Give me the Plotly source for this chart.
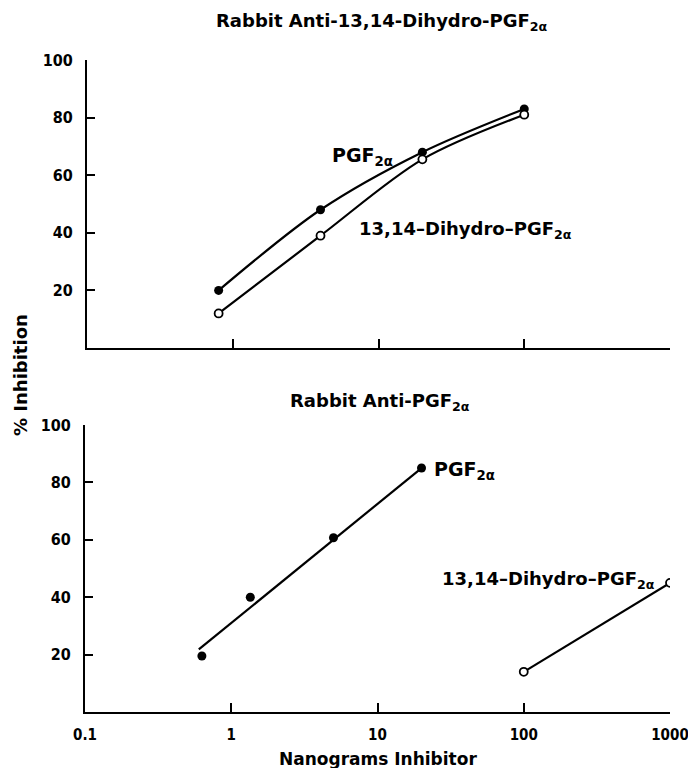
import plotly.graph_objects as go

# ---- data ----
top_x = [0.8, 4, 20, 100]
top_pgf = [20, 48, 68, 83]
top_dihydro = [12, 39, 65.5, 81]

bot_pgf_x = [0.63, 1.35, 5, 20]
bot_pgf_y = [19.5, 40, 60.7, 85]
bot_fit_x = [0.6, 20]
bot_fit_y = [21.8, 85]
bot_dih_x = [100, 1000]
bot_dih_y = [14, 45]

x_tickvals = [0.1, 1, 10, 100, 1000]
x_ticktext = ["0.1", "1", "10", "100", "1000"]
y_tickvals = [20, 40, 60, 80, 100]

FONT = "DejaVu Sans Condensed, DejaVu Sans, sans-serif"
LFONT = "DejaVu Sans, sans-serif"
W, H = 688, 768

def py(px):
    return 1 - px / H

fig = go.Figure()

filled = dict(symbol="circle", size=9, color="black")
opened = dict(symbol="circle", size=8, color="white", line=dict(width=1.8, color="black"))

# top panel
fig.add_trace(go.Scatter(x=top_x, y=top_pgf, mode="lines+markers",
                         line=dict(color="black", width=2.2, shape="spline", smoothing=0.9),
                         marker=filled, xaxis="x", yaxis="y", showlegend=False))
fig.add_trace(go.Scatter(x=top_x, y=top_dihydro, mode="lines+markers",
                         line=dict(color="black", width=2.2, shape="spline", smoothing=0.9),
                         marker=opened, xaxis="x", yaxis="y", showlegend=False))

# bottom panel
fig.add_trace(go.Scatter(x=bot_fit_x, y=bot_fit_y, mode="lines", line=dict(color="black", width=2.2),
                         xaxis="x2", yaxis="y2", showlegend=False))
fig.add_trace(go.Scatter(x=bot_pgf_x, y=bot_pgf_y, mode="markers", marker=filled,
                         xaxis="x2", yaxis="y2", showlegend=False))
fig.add_trace(go.Scatter(x=bot_dih_x, y=bot_dih_y, mode="lines+markers", line=dict(color="black", width=2.2),
                         marker=opened, xaxis="x2", yaxis="y2", showlegend=False))

xtickfont = dict(family=FONT, size=15, color="black", weight="bold")
ytickfont = dict(family=FONT, size=16, color="black", weight="bold")
common_x = dict(type="log", range=[-1, 3], showline=True, linecolor="black", linewidth=2.2,
                ticks="inside", ticklen=9, tickwidth=2, tickcolor="black",
                tickvals=x_tickvals, ticktext=x_ticktext, showgrid=False, zeroline=False,
                tickfont=xtickfont, automargin=False, ticklabelstandoff=8,
                ticklabeloverflow="allow")
common_y = dict(range=[0, 100], showline=True, linecolor="black", linewidth=2.2,
                ticks="inside", ticklen=8, tickwidth=2, tickcolor="black",
                tickvals=y_tickvals, showgrid=False, zeroline=False, tickfont=ytickfont,
                automargin=False, ticklabelstandoff=9, ticklabeloverflow="allow")

fig.update_layout(
    width=W, height=H, margin=dict(l=0, r=0, t=0, b=0),
    paper_bgcolor="white", plot_bgcolor="white",
    font=dict(family=LFONT, color="black"),
    xaxis=dict(common_x, domain=[87 / W, 670 / W], anchor="y", showticklabels=False),
    yaxis=dict(common_y, domain=[py(348), py(60)], anchor="x"),
    xaxis2=dict(common_x, domain=[85 / W, 670 / W], anchor="y2"),
    yaxis2=dict(common_y, domain=[py(712), py(425)], anchor="x2"),
)

ann = []
def label(text, x, y, size=19, xanchor="center"):
    ann.append(dict(text="<b>" + text + "</b>", x=x, y=y, xref="paper", yref="paper", showarrow=False,
                    xanchor=xanchor, yanchor="middle", font=dict(family=LFONT, size=size, color="black")))

label("Rabbit Anti-13,14-Dihydro-PGF<sub>2α</sub>", 381 / W, py(22), size=18)
label("Rabbit Anti-PGF<sub>2α</sub>", 380 / W, py(402), size=18)
label("PGF<sub>2α</sub>", 330 / W, py(156), xanchor="left")
label("13,14–Dihydro–PGF<sub>2α</sub>", 357 / W, py(230), size=18, xanchor="left")
label("PGF<sub>2α</sub>", 432 / W, py(470), xanchor="left")
label("13,14–Dihydro–PGF<sub>2α</sub>", 440 / W, py(580), size=18, xanchor="left")
label("Nanograms Inhibitor", 378 / W, py(759), size=17)
ann.append(dict(text="<b>% Inhibition</b>", x=20 / W, y=py(375), xref="paper", yref="paper", showarrow=False,
                textangle=-90, xanchor="center", yanchor="middle",
                font=dict(family=LFONT, size=18, color="black")))
fig.update_layout(annotations=ann)

fig.write_html("out.html", config={"displayModeBar": False},
               post_script="document.body.style.margin='0';")
